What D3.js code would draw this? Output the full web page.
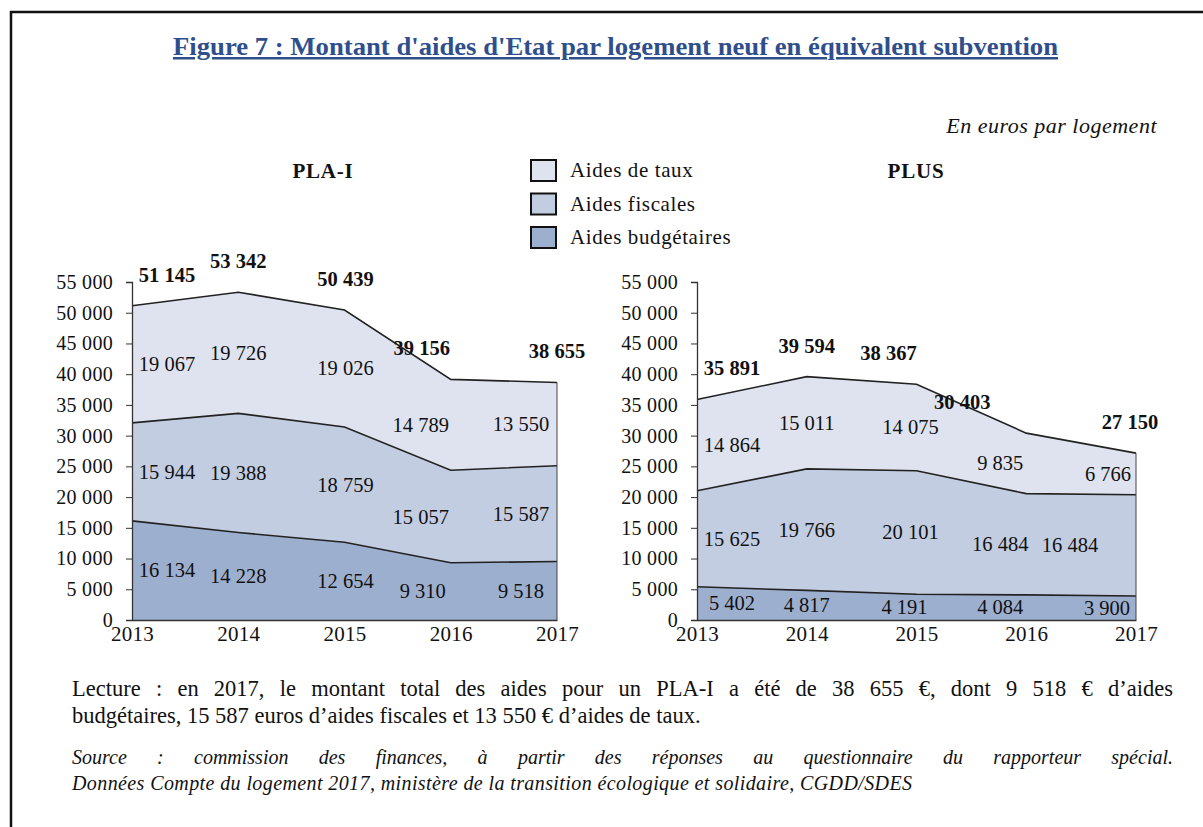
<!DOCTYPE html>
<html>
<head>
<meta charset="utf-8">
<script src="https://cdn.jsdelivr.net/npm/d3@7"></script>
<style>
  body { margin: 0; background: #fff; }
  #wrap { position: relative; width: 1203px; height: 827px; overflow: hidden; }
  svg { position: absolute; left: 0; top: 0; }
  .note { position: absolute; left: 72px; width: 1101px; font-family: "Liberation Serif", serif; color: #111; white-space: nowrap; }
  .just { text-align: justify; text-align-last: justify; }
</style>
</head>
<body>
<div id="wrap"></div>
<script>
// data
var years = [2013, 2014, 2015, 2016, 2017];
var layerNames = ["Aides budgétaires", "Aides fiscales", "Aides de taux"];
var plaiBudget = [16134, 14228, 12654, 9310, 9518];
var plaiFiscal = [15944, 19388, 18759, 15057, 15587];
var plaiTaux   = [19067, 19726, 19026, 14789, 13550];
var plusBudget = [5402, 4817, 4191, 4084, 3900];
var plusFiscal = [15625, 19766, 20101, 16484, 16484];
var plusTaux   = [14864, 15011, 14075, 9835, 6766];
var yTicks = [0, 5000, 10000, 15000, 20000, 25000, 30000, 35000, 40000, 45000, 50000, 55000];

var colors = ["#9dafcf", "#c3cde1", "#dee3ef"];
var W = 1203, H = 827;
var serif = "Liberation Serif";

var wrap = d3.select("#wrap");
var svg = wrap.append("svg").attr("width", W).attr("height", H);

svg.append("rect").attr("width", W).attr("height", H).attr("fill", "#fff");

// frame
svg.append("path")
    .attr("d", "M11," + H + "V12H" + W)
    .attr("fill", "none")
    .attr("stroke", "#111")
    .attr("stroke-width", 2.5);

// title
svg.append("text")
    .attr("x", 173).attr("y", 55)
    .attr("font-family", serif)
    .attr("font-weight", "bold")
    .attr("font-size", "25px")
    .attr("fill", "#2f4f8c")
    .attr("text-decoration", "underline")
    .attr("textLength", 885)
    .attr("lengthAdjust", "spacingAndGlyphs")
    .text("Figure 7 : Montant d'aides d'Etat par logement neuf en équivalent subvention");

svg.append("text")
    .attr("x", 1157).attr("y", 133)
    .attr("text-anchor", "end")
    .attr("font-family", serif)
    .attr("font-style", "italic")
    .attr("font-size", "22px")
    .attr("letter-spacing", "0.5px")
    .attr("fill", "#111")
    .text("En euros par logement");

// legend
var legend = svg.append("g").attr("transform", "translate(531,160)");
[2, 1, 0].forEach(function(k, i) {
    var row = legend.append("g").attr("transform", "translate(0," + (i * 33.5) + ")");
    row.append("rect")
        .attr("width", 25).attr("height", 21)
        .attr("fill", colors[k])
        .attr("stroke", "#111")
        .attr("stroke-width", 2);
    row.append("text")
        .attr("x", 39).attr("y", 17)
        .attr("font-family", serif)
        .attr("font-size", "21px")
        .attr("letter-spacing", "0.6px")
        .attr("fill", "#111")
        .text(layerNames[k]);
});

var fmt = function(d) { return d3.format(",")(d).replace(/,/g, " "); };

function drawChart(opt) {
    var x = d3.scaleLinear().domain([2013, 2017]).range([opt.x0, opt.x1]);
    var y = d3.scaleLinear().domain([0, 55000]).range([620, 282]);

    var rows = years.map(function(yr, i) {
        return { year: yr, b: opt.budget[i], f: opt.fiscal[i], t: opt.taux[i] };
    });
    var stack = d3.stack().keys(["b", "f", "t"])(rows);

    var g = svg.append("g");

    var area = d3.area()
        .x(function(d) { return x(d.data.year); })
        .y0(function(d) { return y(d[0]); })
        .y1(function(d) { return y(d[1]); });
    var line = d3.line()
        .x(function(d) { return x(d.data.year); })
        .y(function(d) { return y(d[1]); });

    g.selectAll(".layer").data(stack).join("path")
        .attr("class", "layer")
        .attr("d", area)
        .attr("fill", function(d, i) { return colors[i]; });
    g.selectAll(".edge").data(stack).join("path")
        .attr("class", "edge")
        .attr("d", line)
        .attr("fill", "none")
        .attr("stroke", "#222")
        .attr("stroke-width", 1.6);
    // right border of the area
    g.append("line")
        .attr("x1", x(2017)).attr("x2", x(2017))
        .attr("y1", y(0)).attr("y2", y(stack[2][4][1]))
        .attr("stroke", "#444").attr("stroke-width", 1);

    // y axis
    var yAxis = g.append("g")
        .attr("transform", "translate(" + opt.x0 + ",0)")
        .call(d3.axisLeft(y).tickValues(yTicks).tickSize(6).tickPadding(13).tickFormat(fmt));
    yAxis.select(".domain").attr("stroke", "#333").attr("stroke-width", 1.3);
    yAxis.selectAll(".tick line").attr("stroke", "#333");
    yAxis.selectAll("text")
        .attr("font-family", serif)
        .attr("font-size", "20px")
        .attr("letter-spacing", "0.3px")
        .attr("fill", "#111");

    // x axis
    var xAxis = g.append("g")
        .attr("transform", "translate(0,620)")
        .call(d3.axisBottom(x).tickValues(years).tickSize(0).tickPadding(6).tickFormat(d3.format("d")));
    xAxis.select(".domain").attr("stroke", "#333").attr("stroke-width", 1.3);
    xAxis.selectAll("text")
        .attr("font-family", serif)
        .attr("font-size", "21px")
        .attr("letter-spacing", "0.3px")
        .attr("fill", "#111");

    // value labels inside layers
    stack.forEach(function(layer, k) {
        g.selectAll(".lab" + k).data(layer).join("text")
            .attr("x", function(d, i) { return x(d.data.year) + opt.dx[k][i]; })
            .attr("y", function(d) { return y((d[0] + d[1]) / 2) + 7; })
            .attr("text-anchor", "middle")
            .attr("font-family", serif)
            .attr("font-size", "20.5px")
            .attr("fill", "#111")
            .text(function(d) { return fmt(d[1] - d[0]); });
    });

    // totals
    g.selectAll(".total").data(stack[2]).join("text")
        .attr("x", function(d, i) { return x(d.data.year) + opt.dxTot[i]; })
        .attr("y", function(d) { return y(d[1]) - 24; })
        .attr("text-anchor", "middle")
        .attr("font-family", serif)
        .attr("font-weight", "bold")
        .attr("font-size", "20.5px")
        .attr("fill", "#111")
        .text(function(d) { return fmt(d[1]); });

    svg.append("text")
        .attr("x", opt.titleX).attr("y", 178)
        .attr("text-anchor", "middle")
        .attr("font-family", serif)
        .attr("font-weight", "bold")
        .attr("font-size", "21px")
        .attr("letter-spacing", "0.8px")
        .attr("fill", "#111")
        .text(opt.title);
}

drawChart({
    title: "PLA-I", titleX: 323,
    x0: 132, x1: 557,
    budget: plaiBudget, fiscal: plaiFiscal, taux: plaiTaux,
    dx: [[35, 0, 1, -28, -36], [35, 0, 1, -30, -36], [35, 0, 1, -30, -36]],
    dxTot: [35, 0, 1, -29, 0]
});

drawChart({
    title: "PLUS", titleX: 916,
    x0: 697, x1: 1136,
    budget: plusBudget, fiscal: plusFiscal, taux: plusTaux,
    dx: [[35, 0, -12, -26, -29], [35, 0, -6, -26, -66], [35, 0, -6, -26, -28]],
    dxTot: [35, 0, -28, -64, -6]
});

// notes
wrap.append("div").attr("class", "note just")
    .style("top", "676px").style("font-size", "22.5px")
    .text("Lecture : en 2017, le montant total des aides pour un PLA-I a été de 38 655 €, dont 9 518 € d’aides");
wrap.append("div").attr("class", "note")
    .style("top", "703px").style("font-size", "22.5px")
    .text("budgétaires, 15 587 euros d’aides fiscales et 13 550 € d’aides de taux.");
wrap.append("div").attr("class", "note just")
    .style("top", "746px").style("font-size", "20px").style("font-style", "italic")
    .text("Source : commission des finances, à partir des réponses au questionnaire du rapporteur spécial.");
wrap.append("div").attr("class", "note")
    .style("top", "772px").style("font-size", "20px").style("font-style", "italic")
    .style("letter-spacing", "0.4px")
    .text("Données Compte du logement 2017, ministère de la transition écologique et solidaire, CGDD/SDES");
</script>
</body>
</html>
